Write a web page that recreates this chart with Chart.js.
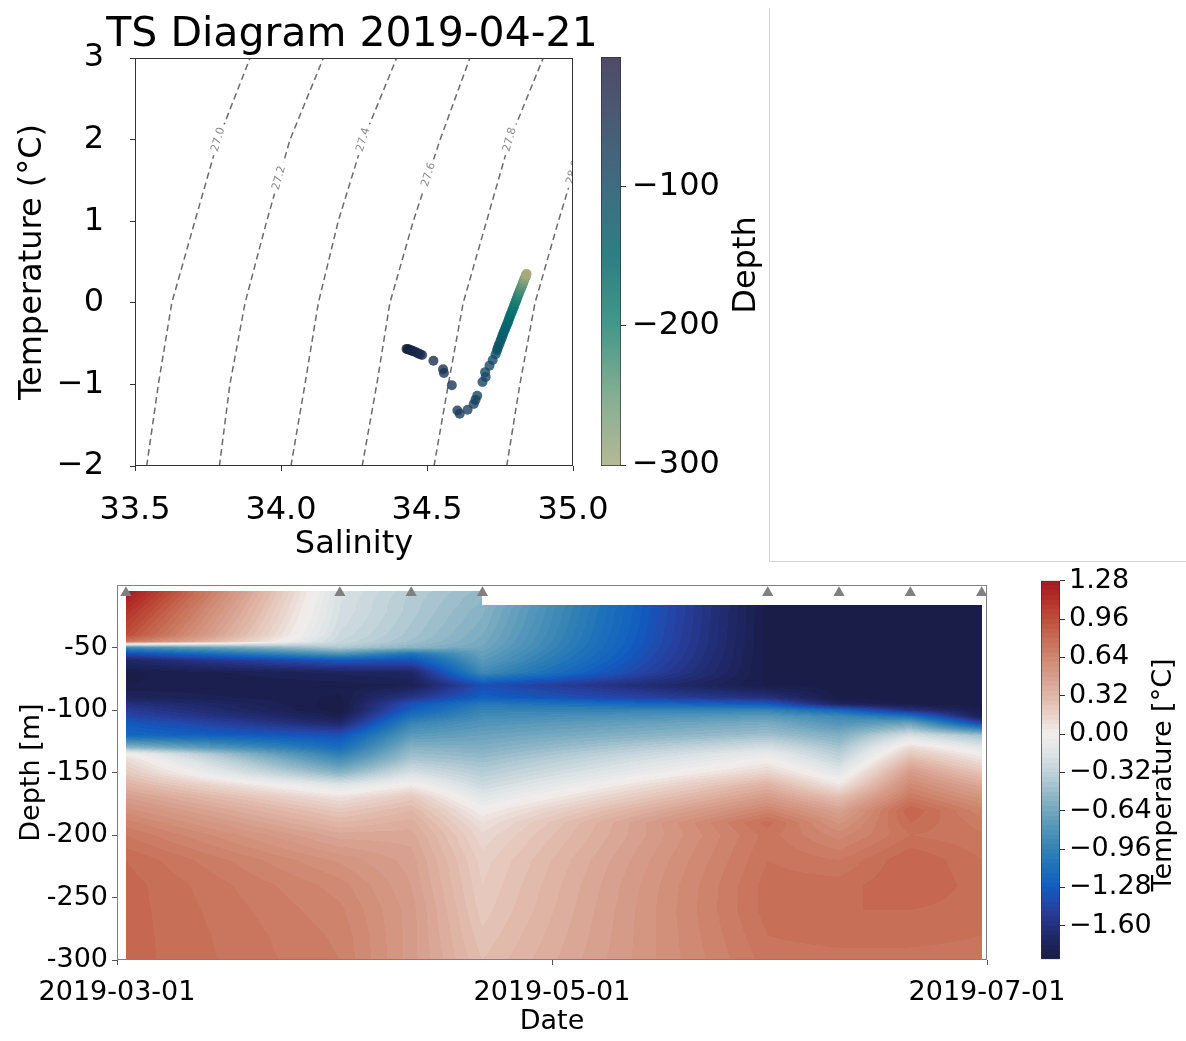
<!DOCTYPE html>
<html><head><meta charset="utf-8">
<script src="https://cdn.jsdelivr.net/npm/chart.js@4.4.1/dist/chart.umd.min.js"></script>
<style>
html,body{margin:0;padding:0;background:#fff;}
body{width:1186px;height:1041px;position:relative;overflow:hidden;font-family:'DejaVu Sans',sans-serif;}
canvas{position:absolute;}
#panel{position:absolute;left:769px;top:8px;width:417px;height:554px;border-left:1px solid #d4d4d4;border-bottom:1px solid #d4d4d4;box-sizing:border-box;}
</style></head><body>
<div id="panel"></div>
<canvas id="ts" width="770" height="570" style="left:0;top:0"></canvas>
<canvas id="tscb" width="210" height="570" style="left:560px;top:0"></canvas>
<canvas id="hm" width="1186" height="476" style="left:0;top:565px"></canvas>
<canvas id="hmcb" width="186" height="491" style="left:1000px;top:550px"></canvas>
<script>
// ---------------- TS diagram data (profile of 2019-04-21) ----------------
const TS_TITLE = 'TS Diagram 2019-04-21';
const TS_SALINITY = [34.430,34.434,34.438,34.442,34.447,34.452,34.458,34.464,34.470,34.476,34.483,34.522,34.555,34.558,34.585,34.604,34.612,34.639,34.660,34.666,34.672,34.690,34.701,34.699,34.714,34.725,34.735,
  34.740,34.742,34.745,34.749,34.752,34.755,34.758,34.761,34.764,34.767,34.770,34.773,34.776,34.779,34.781,34.784,34.786,34.789,34.792,34.794,34.797,34.799,34.801,34.804,34.806,34.808,34.810,34.812,34.814,34.816,34.818,34.820,34.822,34.824,34.826,34.827,34.829,34.830,34.832,34.833,34.835,34.836,34.838,34.839,34.840,34.841];
const TS_TEMPERATURE = [-0.565,-0.568,-0.572,-0.578,-0.585,-0.592,-0.600,-0.610,-0.620,-0.630,-0.640,-0.710,-0.815,-0.860,-1.010,-1.320,-1.360,-1.310,-1.240,-1.190,-1.140,-0.970,-0.910,-0.850,-0.770,-0.700,-0.630,
  -0.583,-0.557,-0.522,-0.497,-0.463,-0.437,-0.404,-0.380,-0.350,-0.327,-0.296,-0.274,-0.244,-0.222,-0.193,-0.171,-0.144,-0.124,-0.096,-0.077,-0.050,-0.032,-0.006,0.011,0.036,0.052,0.076,0.091,0.114,0.128,0.150,0.163,0.184,0.196,0.216,0.227,0.246,0.256,0.274,0.283,0.300,0.308,0.324,0.332,0.347,0.356];
const TS_DEPTH = [-6.7,-12,-17,-22,-27,-32,-37,-42,-47,-52,-56,-60,-64,-67,-71,-75,-79,-83,-87,-90,-93,-97,-100,-103,-107,-111,-115,
  -119,-123,-127,-131,-135,-139,-143,-147,-151,-155,-159,-163,-167,-171,-175,-179,-183,-187,-191,-195,-199,-203,-207,-211,-215,-219,-223,-227,-231,-235,-239,-243,-247,-251,-255,-259,-263,-267,-271,-275,-279,-283,-287,-291,-295,-300.7];
const TS_DEPTH_TICKS = [-300,-200,-100];

// isopycnals (sigma-0) : salinity at each temperature
const ISO_LEVELS = [27.0, 27.2, 27.4, 27.6, 27.8, 28.0];
const ISO_TEMPS = [-2, -1, 0, 1, 2, 3];
const ISO_SAL_270 = [33.540, 33.580, 33.626, 33.705, 33.785, 33.894];
const ISO_SAL_272 = [33.789, 33.825, 33.877, 33.951, 34.031, 34.145];
const ISO_SAL_274 = [34.034, 34.082, 34.128, 34.196, 34.282, 34.396];
const ISO_SAL_276 = [34.278, 34.328, 34.373, 34.453, 34.545, 34.647];
const ISO_SAL_278 = [34.524, 34.573, 34.624, 34.704, 34.784, 34.898];
const ISO_SAL_280 = [34.773, 34.818, 34.870, 34.950, 35.035, 35.150];
const ISO_LABEL_T = [2.0, 1.53, 2.0, 1.57, 2.0, 1.60];

// ---------------- Temperature section data ----------------
const PROFILE_DATES = ['2019-03-02T06:00','2019-04-01T06:00','2019-04-11T06:00','2019-04-21T06:00','2019-05-31T06:00','2019-06-10T06:00','2019-06-20T06:00','2019-06-30T06:00'];
const DEPTHS = [-5,-10,-16,-20,-30,-40,-45,-47,-50,-55,-60,-70,-80,-90,-95,-100,-105,-110,-120,-130,-135,-140,-150,-160,-170,-180,-190,-200,-220,-240,-260,-280,-300];
const TEMP_0302 = [1.27,1.22,1.16,1.12,1.04,0.96,0.75,0.00,-0.90,-1.40,-1.70,-1.85,-1.84,-1.75,-1.60,-1.50,-1.42,-1.30,-1.20,-0.50,0.00,0.12,0.22,0.35,0.48,0.58,0.66,0.72,0.80,0.82,0.82,0.82,0.82];
const TEMP_0401 = [-0.18,-0.19,-0.20,-0.20,-0.22,-0.25,-0.28,-0.31,-0.40,-0.80,-1.30,-1.75,-1.82,-1.85,-1.87,-1.88,-1.80,-1.70,-1.35,-1.15,-1.00,-0.85,-0.55,-0.15,0.08,0.22,0.32,0.42,0.55,0.62,0.65,0.67,0.68];
const TEMP_0411 = [-0.36,-0.37,-0.38,-0.38,-0.40,-0.42,-0.45,-0.48,-0.55,-1.10,-1.35,-1.72,-1.80,-1.55,-1.35,-1.25,-1.10,-0.95,-0.75,-0.55,-0.47,-0.40,-0.20,0.02,0.22,0.32,0.38,0.42,0.46,0.48,0.50,0.50,0.50];
const TEMP_0421 = [-0.50,-0.52,-0.53,-0.55,-0.57,-0.60,-0.62,-0.63,-0.65,-0.70,-0.75,-0.90,-1.36,-1.25,-1.05,-0.95,-0.88,-0.80,-0.68,-0.58,-0.52,-0.46,-0.36,-0.25,-0.12,0.00,0.08,0.13,0.18,0.20,0.22,0.25,0.28];
const TEMP_0531 = [null,null,-1.86,-1.86,-1.86,-1.86,-1.86,-1.86,-1.86,-1.86,-1.86,-1.86,-1.85,-1.60,-1.30,-0.95,-0.75,-0.62,-0.45,-0.20,-0.08,0.00,0.15,0.35,0.50,0.65,0.78,0.74,0.76,0.78,0.78,0.76,0.74];
const TEMP_0610 = [null,null,-1.86,-1.86,-1.86,-1.86,-1.86,-1.86,-1.86,-1.86,-1.86,-1.86,-1.86,-1.86,-1.75,-1.20,-0.90,-0.80,-0.58,-0.42,-0.35,-0.28,-0.12,0.05,0.28,0.45,0.55,0.62,0.72,0.78,0.80,0.78,0.74];
const TEMP_0620 = [null,null,-1.86,-1.86,-1.86,-1.86,-1.86,-1.86,-1.86,-1.86,-1.86,-1.86,-1.86,-1.86,-1.86,-1.60,-1.10,-0.70,-0.20,0.12,0.22,0.32,0.50,0.62,0.72,0.84,0.80,0.76,0.84,0.84,0.80,0.77,0.75];
const TEMP_0630 = [null,null,-1.86,-1.86,-1.86,-1.86,-1.86,-1.86,-1.86,-1.86,-1.86,-1.86,-1.86,-1.86,-1.86,-1.86,-1.80,-1.45,-0.45,-0.12,0.00,0.08,0.25,0.42,0.55,0.65,0.70,0.73,0.76,0.78,0.78,0.76,0.75];
const MARKER_DEPTH = -6;
const X_TICK_LABELS = ['2019-03-01','2019-05-01','2019-07-01'];
const Y_TICKS = [-300,-250,-200,-150,-100,-50];
const TEMP_CB_TICKS = [-1.60,-1.28,-0.96,-0.64,-0.32,0.00,0.32,0.64,0.96,1.28];
const LEVEL_MIN = -1.88, LEVEL_MAX = 1.28, LEVEL_STEP = 0.04;

// ---------------- styles ----------------
const FONT = "'DejaVu Sans', sans-serif";
Chart.defaults.font.family = FONT;
Chart.defaults.color = '#000';
const TEMP_CMAP = [
  [-1.88,[26,28,68]],[-1.76,[28,34,90]],[-1.60,[36,48,125]],[-1.44,[38,66,165]],[-1.28,[16,92,192]],
  [-1.12,[28,112,186]],[-0.96,[52,130,180]],[-0.80,[80,148,184]],[-0.64,[114,166,190]],[-0.48,[152,188,202]],
  [-0.32,[192,210,217]],[-0.16,[222,228,230]],[0.00,[241,237,236]],[0.16,[233,210,202]],[0.32,[224,183,168]],
  [0.48,[215,158,139]],[0.64,[207,134,112]],[0.80,[199,108,84]],[0.96,[190,78,58]],[1.12,[178,48,42]],[1.28,[162,26,33]]];
const POINT_CMAP = [
  [-300,[168,170,122]],[-280,[135,162,122]],[-260,[100,150,120]],[-240,[66,138,118]],[-220,[36,126,116]],
  [-200,[16,116,113]],[-180,[8,108,110]],[-160,[8,100,108]],[-140,[12,90,106]],[-120,[18,80,104]],
  [-100,[24,70,100]],[-80,[28,60,94]],[-60,[26,46,80]],[-30,[24,36,68]],[-7,[22,30,62]]];
const DEPTH_CB_CMAP = [
  [-300.7,[182,185,150]],[-250,[132,174,146]],[-200,[68,152,138]],[-150,[46,126,131]],[-100,[62,109,128]],[-50,[74,90,116]],[-6.7,[79,74,103]]];

function lerpStops(stops, v){
  if (v <= stops[0][0]) return stops[0][1];
  for (let i=1;i<stops.length;i++){
    if (v <= stops[i][0]){ const [v0,c0]=stops[i-1],[v1,c1]=stops[i]; const t=(v-v0)/(v1-v0); return c0.map((c,k)=>c+(c1[k]-c)*t); }
  }
  return stops[stops.length-1][1];
}
const rgb = (c,a)=> a==null ? `rgb(${c.map(Math.round).join(',')})` : `rgba(${c.map(Math.round).join(',')},${a})`;
function dayOf(s){
  const [d,t]=s.split('T'); const [Y,M,D]=d.split('-').map(Number);
  let h=0,m=0; if(t){[h,m]=t.split(':').map(Number);}
  return (Date.UTC(Y,M-1,D,h,m)-Date.UTC(2019,2,1))/864e5;
}
const minusFmt = (v,d)=> (v<0?'\u2212':'')+Math.abs(v).toFixed(d);
const framePlugin = color => ({id:'frame', afterDraw(chart){
  const {ctx, chartArea:a} = chart; ctx.save(); ctx.strokeStyle=color; ctx.lineWidth=1;
  ctx.strokeRect(Math.round(a.left)+0.5, Math.round(a.top)+0.5, Math.round(a.right-a.left)-1, Math.round(a.bottom-a.top)-1); ctx.restore();}});
const rotTitle = (text,x,y,size)=>({id:'rotTitle', afterDraw(chart){
  const c=chart.ctx; c.save(); c.translate(x,y); c.rotate(-Math.PI/2); c.font=`${size}px ${FONT}`;
  c.fillStyle='#000'; c.textAlign='center'; c.textBaseline='middle'; c.fillText(text,0,0); c.restore();}});
const topTitle = (text,size,yc)=>({id:'topTitle', afterDraw(chart){
  const c=chart.ctx, a=chart.chartArea; c.save(); c.font=`${size}px ${FONT}`; c.fillStyle='#000';
  c.textAlign='center'; c.textBaseline='middle'; c.fillText(text,(a.left+a.right)/2-2,yc); c.restore();}});

// ---------------- TS chart ----------------
const ISO_SAL = [ISO_SAL_270, ISO_SAL_272, ISO_SAL_274, ISO_SAL_276, ISO_SAL_278, ISO_SAL_280];
const isoDatasets = ISO_SAL.map(arr=>({type:'line', data:arr.map((s,j)=>({x:s,y:ISO_TEMPS[j]})),
  borderColor:'#6b6b6b', borderWidth:1.5, borderDash:[6.5,4], pointRadius:0, fill:false, tension:0, order:1}));
const tsDataset = {type:'scatter', data:TS_SALINITY.map((s,i)=>({x:s,y:TS_TEMPERATURE[i]})),
  backgroundColor:TS_DEPTH.map(d=>rgb(lerpStops(POINT_CMAP,d),0.8)), borderWidth:0, pointRadius:5, order:0};
const isoLabelPlugin = {id:'isoLabels', afterDatasetsDraw(chart){
  const {ctx, chartArea:a, scales:{x,y}} = chart;
  ctx.save(); ctx.beginPath(); ctx.rect(a.left,a.top,a.right-a.left,a.bottom-a.top); ctx.clip();
  ctx.font = `11px ${FONT}`; ctx.textAlign='center'; ctx.textBaseline='middle';
  ISO_LEVELS.forEach((lvl,i)=>{
    const T=ISO_LABEL_T[i], arr=ISO_SAL[i]; let j=0;
    while (j<ISO_TEMPS.length-2 && ISO_TEMPS[j+1]<T) j++;
    const t=(T-ISO_TEMPS[j])/(ISO_TEMPS[j+1]-ISO_TEMPS[j]); const S=arr[j]+(arr[j+1]-arr[j])*t;
    const px=x.getPixelForValue(S), py=y.getPixelForValue(T);
    const ang=Math.atan2(y.getPixelForValue(ISO_TEMPS[j+1])-y.getPixelForValue(ISO_TEMPS[j]), x.getPixelForValue(arr[j+1])-x.getPixelForValue(arr[j]));
    const txt=lvl.toFixed(1), w=ctx.measureText(txt).width;
    ctx.save(); ctx.translate(px,py); ctx.rotate(ang);
    ctx.fillStyle='#fff'; ctx.fillRect(-w/2-4,-6,w+8,12);
    ctx.fillStyle='#8a8a8a'; ctx.fillText(txt,0,0); ctx.restore();
  });
  ctx.restore();
}};
new Chart(document.getElementById('ts'), {
  type:'scatter',
  data:{datasets:[tsDataset, ...isoDatasets]},
  options:{responsive:false, animation:false, devicePixelRatio:1,
    layout:{padding:{left:0,right:197,top:58,bottom:0}},
    plugins:{legend:{display:false}, tooltip:{enabled:false}, title:{display:false}},
    scales:{
      x:{type:'linear', min:33.5, max:35.0, ticks:{stepSize:0.5, font:{size:32}, padding:20, callback:v=>v.toFixed(1)},
        grid:{drawOnChartArea:false, tickLength:5, color:'#333'}, border:{display:false},
        title:{display:true, text:'Salinity', font:{size:32}, padding:{top:0,bottom:6}},
        afterFit:s=>{s.height=104;}},
      y:{type:'linear', min:-2, max:3, ticks:{stepSize:1, font:{size:32}, padding:26, callback:v=>minusFmt(v,0)},
        grid:{drawOnChartArea:false, tickLength:5, color:'#333'}, border:{display:false},
        title:{display:true, text:'Temperature (°C)', font:{size:32}, padding:{top:13,bottom:0}},
        afterFit:s=>{s.width=135;}}
    }},
  plugins:[isoLabelPlugin, framePlugin('#333'), topTitle(TS_TITLE,41,35)]
});

// TS colorbar
const DEPTH_MIN = Math.min(...TS_DEPTH), DEPTH_MAX = Math.max(...TS_DEPTH);
new Chart(document.getElementById('tscb'), {
  type:'bar',
  data:{labels:[''], datasets:[{data:[[DEPTH_MIN, DEPTH_MAX]],
    backgroundColor:(c)=>{const ch=c.chart; if(!ch.chartArea) return 'transparent'; const ys=ch.scales.y;
      const g=ch.ctx.createLinearGradient(0, ys.getPixelForValue(DEPTH_MIN), 0, ys.getPixelForValue(DEPTH_MAX));
      DEPTH_CB_CMAP.forEach(([v,col])=>g.addColorStop(Math.min(1,Math.max(0,(v-DEPTH_MIN)/(DEPTH_MAX-DEPTH_MIN))), rgb(col)));
      return g;},
    borderColor:'#333', borderWidth:1, borderSkipped:false, barPercentage:1, categoryPercentage:1}]},
  options:{responsive:false, animation:false, devicePixelRatio:1,
    layout:{padding:{left:41,top:57,bottom:104,right:0}},
    plugins:{legend:{display:false}, tooltip:{enabled:false}},
    scales:{x:{display:false},
      y:{position:'right', min:DEPTH_MIN, max:DEPTH_MAX,
        afterBuildTicks:s=>{s.ticks=TS_DEPTH_TICKS.map(v=>({value:v}));},
        ticks:{font:{size:32}, padding:6, callback:v=>minusFmt(v,0)},
        grid:{drawOnChartArea:false, tickLength:5, color:'#333'}, border:{display:false},
        afterFit:s=>{s.width=149;}}}},
  plugins:[rotTitle('Depth',187,265,32)]
});

// ---------------- Temperature section ----------------
const TEMP_GRID = [TEMP_0302, TEMP_0401, TEMP_0411, TEMP_0421, TEMP_0531, TEMP_0610, TEMP_0620, TEMP_0630];
const PROFILE_DAYS = PROFILE_DATES.map(dayOf);
const X_TICK_DAYS = X_TICK_LABELS.map(dayOf);
const NBANDS = Math.round((LEVEL_MAX-LEVEL_MIN)/LEVEL_STEP);
const BAND_RGB = [];
for (let k=0;k<NBANDS;k++) BAND_RGB.push(lerpStops(TEMP_CMAP, LEVEL_MIN+(k+0.5)*LEVEL_STEP).map(Math.round));
function bandRGB(v){ let k=Math.floor((v-LEVEL_MIN)/LEVEL_STEP); if(k<0)k=0; if(k>=NBANDS)k=NBANDS-1; return BAND_RGB[k]; }

const heatPlugin = {id:'heat', beforeDatasetsDraw(chart){
  const {ctx, chartArea:a, scales:{x,y}} = chart;
  const cols = PROFILE_DAYS.map(d=>x.getPixelForValue(d));
  const rows = DEPTHS.map(d=>y.getPixelForValue(d));
  const X0=Math.floor(a.left), Y0=Math.floor(a.top), W=Math.ceil(a.right)-X0, H=Math.ceil(a.bottom)-Y0;
  const off=document.createElement('canvas'); off.width=W; off.height=H;
  const octx=off.getContext('2d'); const img=octx.createImageData(W,H); const px=img.data;
  for (let j=0;j<H;j++){
    const Y=Y0+j+0.5; let r=-1;
    for (let k=0;k<rows.length-1;k++){ if (Y>=rows[k] && Y<=rows[k+1]){ r=k; break; } }
    if (r<0) continue;
    const ty=(Y-rows[r])/(rows[r+1]-rows[r]);
    for (let i=0;i<W;i++){
      const X=X0+i+0.5; let c=-1;
      for (let k=0;k<cols.length-1;k++){ if (X>=cols[k] && X<=cols[k+1]){ c=k; break; } }
      if (c<0) continue;
      const tx=(X-cols[c])/(cols[c+1]-cols[c]);
      const v00=TEMP_GRID[c][r], v10=TEMP_GRID[c+1][r], v01=TEMP_GRID[c][r+1], v11=TEMP_GRID[c+1][r+1];
      if (v00==null||v10==null||v01==null||v11==null) continue;
      const v=(v00*(1-tx)+v10*tx)*(1-ty)+(v01*(1-tx)+v11*tx)*ty;
      const col=bandRGB(v); const o=(j*W+i)*4;
      px[o]=col[0]; px[o+1]=col[1]; px[o+2]=col[2]; px[o+3]=255;
    }
  }
  octx.putImageData(img,0,0); ctx.drawImage(off,X0,Y0);
}};

new Chart(document.getElementById('hm'), {
  type:'scatter',
  data:{datasets:[{data:PROFILE_DAYS.map(d=>({x:d,y:MARKER_DEPTH})), pointStyle:'triangle', pointRadius:6.5,
    backgroundColor:'#808080', borderWidth:0, clip:false}]},
  options:{responsive:false, animation:false, devicePixelRatio:1,
    layout:{padding:{left:0,right:199,top:15,bottom:0}},
    plugins:{legend:{display:false}, tooltip:{enabled:false}},
    scales:{
      x:{type:'linear', min:X_TICK_DAYS[0], max:X_TICK_DAYS[X_TICK_DAYS.length-1],
        afterBuildTicks:s=>{s.ticks=X_TICK_DAYS.map(v=>({value:v}));},
        ticks:{font:{size:27}, padding:12, autoSkip:false, maxRotation:0, callback:v=>{const i=X_TICK_DAYS.indexOf(v); return i<0?'':X_TICK_LABELS[i];}},
        grid:{drawOnChartArea:false, tickLength:5, color:'#555'}, border:{display:false},
        title:{display:true, text:'Date', font:{size:27}, padding:{top:0,bottom:3}},
        afterFit:s=>{s.height=81;}},
      y:{type:'linear', min:-300, max:0,
        afterBuildTicks:s=>{s.ticks=Y_TICKS.map(v=>({value:v}));},
        ticks:{font:{size:27}, padding:4},
        grid:{drawOnChartArea:false, tickLength:5, color:'#555'}, border:{display:false},
        title:{display:true, text:'Depth [m]', font:{size:27}, padding:{top:16,bottom:0}},
        afterFit:s=>{s.width=117;}}
    }},
  plugins:[heatPlugin, framePlugin('#808080')]
});

// Temperature colorbar
new Chart(document.getElementById('hmcb'), {
  type:'bar',
  data:{labels:[''], datasets:[{data:[[LEVEL_MIN, LEVEL_MAX]],
    backgroundColor:(c)=>{const ch=c.chart; if(!ch.chartArea) return 'transparent'; const ys=ch.scales.y;
      const g=ch.ctx.createLinearGradient(0, ys.getPixelForValue(LEVEL_MIN), 0, ys.getPixelForValue(LEVEL_MAX));
      for (let k=0;k<NBANDS;k++){ const col=rgb(BAND_RGB[k]); g.addColorStop(k/NBANDS, col); g.addColorStop((k+1)/NBANDS, col); }
      return g;},
    borderColor:'#333', borderWidth:1, borderSkipped:false, barPercentage:1, categoryPercentage:1}]},
  options:{responsive:false, animation:false, devicePixelRatio:1,
    layout:{padding:{left:41,top:30.7,bottom:81.7,right:0}},
    plugins:{legend:{display:false}, tooltip:{enabled:false}},
    scales:{x:{display:false},
      y:{position:'right', min:LEVEL_MIN, max:LEVEL_MAX,
        afterBuildTicks:s=>{s.ticks=TEMP_CB_TICKS.map(v=>({value:v}));},
        ticks:{font:{size:27}, padding:4, callback:v=>minusFmt(v,2)},
        grid:{drawOnChartArea:false, tickLength:5, color:'#333'}, border:{display:false},
        afterFit:s=>{s.width=126;}}}},
  plugins:[rotTitle('Temperature [°C]',164,225,27)]
});
</script>
</body></html>
